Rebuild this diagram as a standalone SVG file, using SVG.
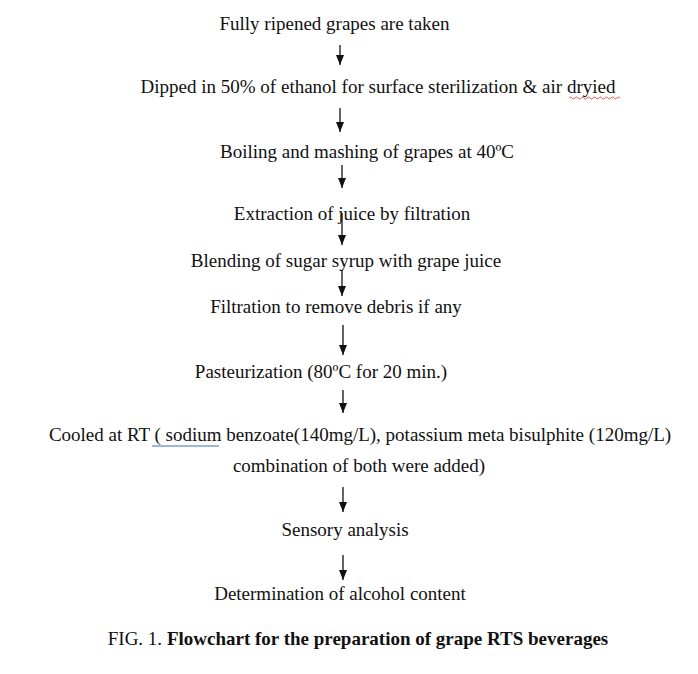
<svg xmlns="http://www.w3.org/2000/svg" width="698" height="674" viewBox="0 0 698 674">
<defs>
<marker id="ah" viewBox="0 0 10 8" refX="10" refY="4" markerWidth="10" markerHeight="8" markerUnits="userSpaceOnUse" orient="auto">
<path d="M0,0 L10,4 L0,8 Z" fill="#111"/>
</marker>
</defs>
<style>
text{font-family:"Liberation Serif","Times New Roman",serif;font-size:19px;fill:#111;text-anchor:middle}
.b{font-weight:bold}
.c line{stroke:#111;stroke-width:1.3;marker-end:url(#ah)}
</style>
<rect width="698" height="674" fill="#fff"/>
<g id="n1"><text x="334.5" y="30">Fully ripened grapes are taken</text></g>
<g id="n2"><text x="378" y="93">Dipped in 50% of ethanol for surface sterilization &amp; air dryied</text>
<path d="M569,98 q1.5,-2 3,0 t3,0 t3,0 t3,0 t3,0 t3,0 t3,0 t3,0 t3,0 t3,0 t3,0 t3,0 t3,0 t3,0 t3,0 t3,0 t3,0" fill="none" stroke="#c33" stroke-width="0.8"/></g>
<g id="n3"><text x="367" y="158">Boiling and mashing of grapes at 40ºC</text></g>
<g id="n4"><text x="352" y="220">Extraction of juice by filtration</text></g>
<g id="n5"><text x="346" y="267">Blending of sugar syrup with grape juice</text></g>
<g id="n6"><text x="336" y="313">Filtration to remove debris if any</text></g>
<g id="n7"><text x="321" y="378">Pasteurization (80ºC for 20 min.)</text></g>
<g id="n8"><text x="360" y="441">Cooled at RT ( sodium benzoate(140mg/L), potassium meta bisulphite (120mg/L)</text>
<text x="359" y="472">combination of both were added)</text>
<line x1="152" y1="446" x2="219" y2="446" stroke="#3a6fb0" stroke-width="1"/></g>
<g id="n9"><text x="345" y="536">Sensory analysis</text></g>
<g id="n10"><text x="340" y="600">Determination of alcohol content</text></g>
<g id="c" class="c">
<line x1="340" y1="45" x2="340" y2="65"/>
<line x1="340" y1="108" x2="340" y2="132"/>
<line x1="342" y1="165" x2="342" y2="188"/>
<line x1="342" y1="213" x2="342" y2="245"/>
<line x1="342" y1="270" x2="342" y2="296"/>
<line x1="343" y1="325" x2="343" y2="355"/>
<line x1="343" y1="390" x2="343" y2="413"/>
<line x1="343" y1="487" x2="343" y2="512"/>
<line x1="343" y1="555" x2="343" y2="580"/>
</g>
<g id="caption"><text x="358" y="645">FIG. 1. <tspan class="b">Flowchart for the preparation of grape RTS beverages</tspan></text></g>
</svg>
